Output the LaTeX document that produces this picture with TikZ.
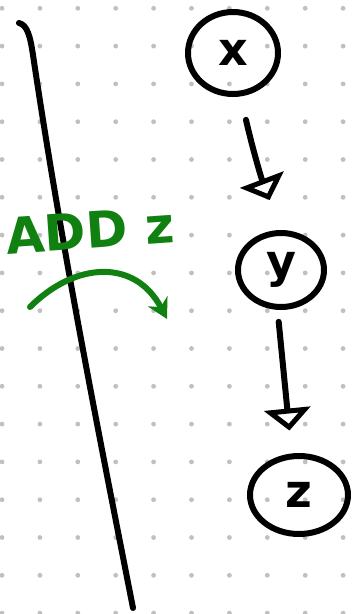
\documentclass[tikz,border=0pt]{standalone}
\usepackage{fontspec}
\setmainfont{DejaVu Sans}
\usetikzlibrary{arrows.meta,shapes.geometric}
\definecolor{penGreen}{RGB}{16,128,16}
\definecolor{dotGray}{RGB}{192,192,192}

\begin{document}
\begin{tikzpicture}[
  x=1pt, y=1pt,
  pen/.style={line width=6pt, line cap=round, line join=round},
  bubble/.style={ellipse, draw, pen, inner sep=0pt, font=\fontsize{46}{46}\selectfont\bfseries},
  linkarrow/.style={pen, -{Triangle[open, width=46pt, length=22pt, line width=5pt]}},
  greenpen/.style={pen, draw=penGreen, -{Stealth[length=20pt, width=22pt]}},
  dot/.style={fill=dotGray}
]
\useasboundingbox (0,0) rectangle (353,-614);
\fill[white] (0,0) rectangle (353,-614);

% dotted paper
\foreach \i in {0,...,9}
  \foreach \j in {0,...,16}
    \fill[dot] (2+37.9*\i, -8.3-37.8*\j) circle (2.4pt);

% dividing stroke
\draw[pen] (19,-23) .. controls (27,-25) and (30,-35) .. (33,-55)
  .. controls (62,-250) and (100,-440) .. (133,-608);

% list nodes
\node[bubble, minimum width=90pt, minimum height=82pt] (x) at (233,-53) {x};
\node[bubble, minimum width=86pt, minimum height=74pt] (y) at (281,-270) {y};
\node[bubble, minimum width=98pt, minimum height=78pt] (z) at (299,-495) {z};

\draw[linkarrow, shorten <=24pt, shorten >=32pt] (x.280) to[bend right=4] (y.90);
\draw[linkarrow, shorten <=12pt, shorten >=23pt] (y.265) -- (z.100);

% annotation
\node[text=penGreen, rotate=4, font=\fontsize{50}{50}\selectfont\bfseries] (addnote) at (90,-230) {ADD z};
\coordinate (gstart) at (30,-307);
\coordinate (gend) at (167,-319);
\draw[greenpen] (gstart) .. controls (75,-262) and (135,-258) .. (gend);

\end{tikzpicture}
\end{document}
